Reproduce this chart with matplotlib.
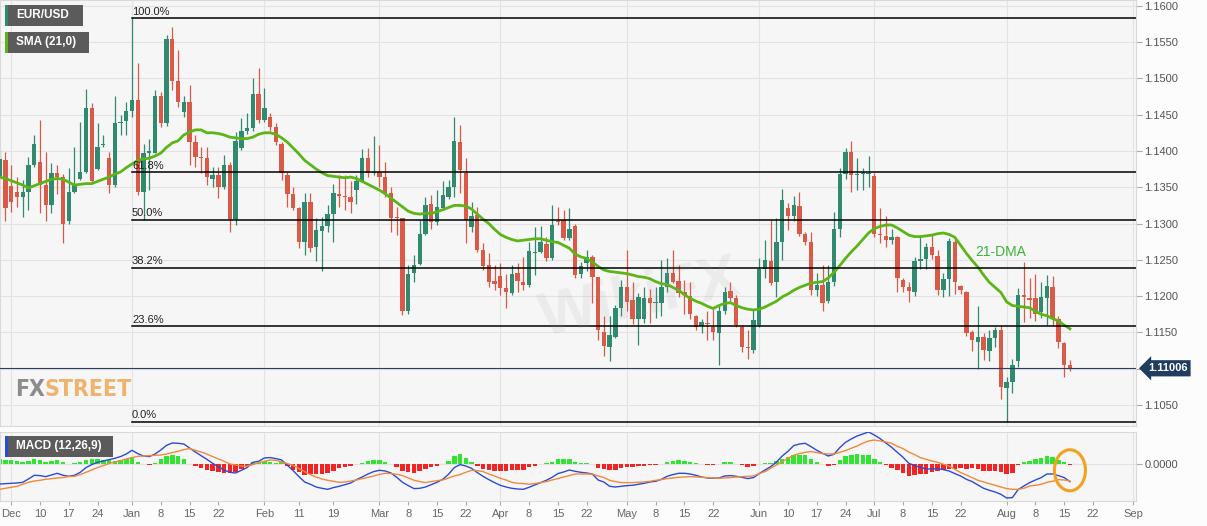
import numpy as np
import pandas as pd
import matplotlib
matplotlib.use("Agg")
import matplotlib.pyplot as plt
from matplotlib.patches import Rectangle, Ellipse
from matplotlib.transforms import blended_transform_factory

plt.rcParams['font.family'] = ['Liberation Sans', 'DejaVu Sans']

# ---- data: EUR/USD daily candles, 29 Nov 2018 - 16 Aug 2019 (one row per week) ----
dates = pd.bdate_range('2018-11-29', '2019-08-16')

open_ = [1.1365, 1.1388,
         1.1352, 1.1344, 1.1337, 1.1344, 1.1381,
         1.1385, 1.1353, 1.1326, 1.1369, 1.1364,
         1.1303, 1.1344, 1.1362, 1.1371, 1.1459,
         1.1375, 1.1408, 1.1390, 1.1353, 1.1438,
         1.1441, 1.1455, 1.1470, 1.1344, 1.1397,
         1.1397, 1.1476, 1.1439, 1.1554, 1.1497,
         1.1453, 1.1468, 1.1412, 1.1391, 1.1390,
         1.1361, 1.1367, 1.1351, 1.1381, 1.1306,
         1.1404, 1.1427, 1.1431, 1.1479, 1.1443,
         1.1447, 1.1433, 1.1410, 1.1367, 1.1340,
         1.1321, 1.1275, 1.1330, 1.1267, 1.1290,
         1.1297, 1.1313, 1.1341, 1.1338, 1.1336,
         1.1346, 1.1359, 1.1390, 1.1370, 1.1371,
         1.1364, 1.1342, 1.1309, 1.1307, 1.1179,
         1.1232, 1.1244, 1.1285, 1.1327, 1.1302,
         1.1321, 1.1336, 1.1350, 1.1412, 1.1370,
         1.1295, 1.1312, 1.1263, 1.1243, 1.1221,
         1.1228, 1.1211, 1.1204, 1.1232, 1.1220,
         1.1215, 1.1259, 1.1261, 1.1272, 1.1252,
         1.1303, 1.1305, 1.1280, 1.1296, 1.1230,
         1.1245, 1.1254, 1.1226, 1.1151, 1.1130,
         1.1144, 1.1184, 1.1213, 1.1195, 1.1169,
         1.1169, 1.1198, 1.1190, 1.1191, 1.1213,
         1.1232, 1.1221, 1.1206, 1.1200, 1.1173,
         1.1159, 1.1163, 1.1157, 1.1149, 1.1179,
         1.1207, 1.1197, 1.1158, 1.1130, 1.1126,
         1.1160, 1.1238, 1.1249, 1.1219, 1.1275,
         1.1321, 1.1310, 1.1324, 1.1285, 1.1275,
         1.1209, 1.1216, 1.1193, 1.1220, 1.1292,
         1.1368, 1.1398, 1.1367, 1.1368, 1.1368,
         1.1365, 1.1286, 1.1283, 1.1277, 1.1282,
         1.1222, 1.1212, 1.1206, 1.1249, 1.1251,
         1.1267, 1.1255, 1.1209, 1.1223, 1.1274,
         1.1214, 1.1206, 1.1151, 1.1137, 1.1144,
         1.1124, 1.1142, 1.1153, 1.1073, 1.1082,
         1.1110, 1.1202, 1.1198, 1.1197, 1.1178,
         1.1197, 1.1212, 1.1169, 1.1136, 1.1105]

high = [1.1401, 1.1399,
        1.1381, 1.1364, 1.1360, 1.1392, 1.1422,
        1.1443, 1.1399, 1.1383, 1.1381, 1.1368,
        1.1376, 1.1406, 1.1440, 1.1485, 1.1466,
        1.1438, 1.1422, 1.1399, 1.1476, 1.1449,
        1.1468, 1.1583, 1.1521, 1.1410, 1.1417,
        1.1484, 1.1481, 1.1560, 1.1571, 1.1539,
        1.1475, 1.1491, 1.1422, 1.1406, 1.1406,
        1.1378, 1.1378, 1.1394, 1.1385, 1.1426,
        1.1445, 1.1452, 1.1500, 1.1514, 1.1486,
        1.1452, 1.1438, 1.1412, 1.1371, 1.1351,
        1.1323, 1.1342, 1.1342, 1.1307, 1.1309,
        1.1325, 1.1355, 1.1367, 1.1367, 1.1358,
        1.1367, 1.1402, 1.1404, 1.1420, 1.1408,
        1.1385, 1.1351, 1.1323, 1.1308, 1.1243,
        1.1257, 1.1305, 1.1337, 1.1339, 1.1346,
        1.1358, 1.1360, 1.1447, 1.1436, 1.1390,
        1.1330, 1.1323, 1.1273, 1.1259, 1.1243,
        1.1246, 1.1231, 1.1243, 1.1246, 1.1254,
        1.1275, 1.1295, 1.1296, 1.1282, 1.1325,
        1.1323, 1.1319, 1.1321, 1.1300, 1.1247,
        1.1263, 1.1257, 1.1227, 1.1172, 1.1172,
        1.1188, 1.1222, 1.1263, 1.1220, 1.1204,
        1.1213, 1.1210, 1.1213, 1.1250, 1.1252,
        1.1263, 1.1243, 1.1222, 1.1220, 1.1174,
        1.1169, 1.1179, 1.1183, 1.1186, 1.1213,
        1.1220, 1.1202, 1.1160, 1.1153, 1.1181,
        1.1252, 1.1277, 1.1305, 1.1307, 1.1347,
        1.1328, 1.1338, 1.1344, 1.1289, 1.1289,
        1.1232, 1.1243, 1.1243, 1.1316, 1.1376,
        1.1404, 1.1413, 1.1390, 1.1376, 1.1393,
        1.1370, 1.1321, 1.1310, 1.1293, 1.1283,
        1.1225, 1.1220, 1.1254, 1.1284, 1.1273,
        1.1284, 1.1264, 1.1232, 1.1280, 1.1280,
        1.1216, 1.1207, 1.1154, 1.1186, 1.1149,
        1.1154, 1.1158, 1.1160, 1.1089, 1.1114,
        1.1211, 1.1247, 1.1225, 1.1231, 1.1220,
        1.1229, 1.1228, 1.1172, 1.1137, 1.1112]

low = [1.1360, 1.1303,
       1.1316, 1.1323, 1.1309, 1.1319, 1.1378,
       1.1314, 1.1303, 1.1314, 1.1340, 1.1273,
       1.1300, 1.1342, 1.1360, 1.1369, 1.1355,
       1.1374, 1.1406, 1.1342, 1.1351, 1.1422,
       1.1422, 1.1447, 1.1339, 1.1305, 1.1346,
       1.1397, 1.1433, 1.1435, 1.1484, 1.1461,
       1.1447, 1.1381, 1.1378, 1.1369, 1.1353,
       1.1351, 1.1335, 1.1348, 1.1289, 1.1298,
       1.1401, 1.1424, 1.1428, 1.1438, 1.1440,
       1.1428, 1.1408, 1.1360, 1.1323, 1.1319,
       1.1266, 1.1257, 1.1261, 1.1248, 1.1234,
       1.1289, 1.1275, 1.1323, 1.1319, 1.1314,
       1.1327, 1.1358, 1.1364, 1.1367, 1.1351,
       1.1336, 1.1289, 1.1284, 1.1174, 1.1176,
       1.1220, 1.1243, 1.1284, 1.1293, 1.1298,
       1.1319, 1.1334, 1.1337, 1.1342, 1.1273,
       1.1289, 1.1261, 1.1236, 1.1213, 1.1208,
       1.1202, 1.1183, 1.1202, 1.1205, 1.1208,
       1.1213, 1.1229, 1.1259, 1.1248, 1.1250,
       1.1298, 1.1277, 1.1277, 1.1225, 1.1225,
       1.1234, 1.1190, 1.1140, 1.1117, 1.1110,
       1.1142, 1.1172, 1.1179, 1.1162, 1.1133,
       1.1163, 1.1163, 1.1170, 1.1172, 1.1205,
       1.1218, 1.1199, 1.1176, 1.1169, 1.1153,
       1.1149, 1.1140, 1.1140, 1.1105, 1.1176,
       1.1190, 1.1158, 1.1123, 1.1114, 1.1122,
       1.1158, 1.1225, 1.1216, 1.1199, 1.1250,
       1.1291, 1.1303, 1.1283, 1.1270, 1.1202,
       1.1200, 1.1179, 1.1190, 1.1214, 1.1282,
       1.1362, 1.1344, 1.1346, 1.1346, 1.1351,
       1.1282, 1.1273, 1.1268, 1.1272, 1.1205,
       1.1205, 1.1192, 1.1200, 1.1237, 1.1237,
       1.1251, 1.1202, 1.1199, 1.1200, 1.1203,
       1.1203, 1.1145, 1.1124, 1.1099, 1.1112,
       1.1110, 1.1130, 1.1058, 1.1027, 1.1066,
       1.1103, 1.1165, 1.1170, 1.1166, 1.1170,
       1.1160, 1.1160, 1.1128, 1.1089, 1.1097]

close = [1.1389, 1.1321,
         1.1330, 1.1337, 1.1344, 1.1381, 1.1410,
         1.1353, 1.1326, 1.1369, 1.1364, 1.1300,
         1.1344, 1.1353, 1.1371, 1.1459, 1.1358,
         1.1405, 1.1410, 1.1353, 1.1438, 1.1440,
         1.1455, 1.1470, 1.1344, 1.1397, 1.1400,
         1.1476, 1.1439, 1.1554, 1.1497, 1.1468,
         1.1468, 1.1412, 1.1391, 1.1390, 1.1364,
         1.1367, 1.1351, 1.1381, 1.1306, 1.1413,
         1.1427, 1.1431, 1.1479, 1.1443, 1.1459,
         1.1433, 1.1412, 1.1369, 1.1341, 1.1321,
         1.1275, 1.1330, 1.1266, 1.1291, 1.1297,
         1.1313, 1.1342, 1.1338, 1.1336, 1.1330,
         1.1359, 1.1390, 1.1370, 1.1371, 1.1364,
         1.1342, 1.1307, 1.1307, 1.1179, 1.1230,
         1.1243, 1.1285, 1.1325, 1.1302, 1.1323,
         1.1339, 1.1350, 1.1413, 1.1374, 1.1305,
         1.1310, 1.1264, 1.1242, 1.1220, 1.1217,
         1.1211, 1.1206, 1.1230, 1.1221, 1.1216,
         1.1262, 1.1261, 1.1274, 1.1252, 1.1298,
         1.1302, 1.1280, 1.1293, 1.1229, 1.1241,
         1.1254, 1.1227, 1.1154, 1.1131, 1.1146,
         1.1183, 1.1213, 1.1192, 1.1169, 1.1199,
         1.1198, 1.1190, 1.1192, 1.1213, 1.1232,
         1.1220, 1.1204, 1.1202, 1.1176, 1.1158,
         1.1165, 1.1161, 1.1151, 1.1179, 1.1205,
         1.1197, 1.1160, 1.1130, 1.1128, 1.1167,
         1.1238, 1.1250, 1.1218, 1.1275, 1.1332,
         1.1310, 1.1326, 1.1286, 1.1274, 1.1208,
         1.1215, 1.1191, 1.1220, 1.1293, 1.1368,
         1.1398, 1.1367, 1.1368, 1.1369, 1.1370,
         1.1286, 1.1284, 1.1277, 1.1282, 1.1225,
         1.1213, 1.1207, 1.1248, 1.1251, 1.1268,
         1.1257, 1.1208, 1.1223, 1.1276, 1.1220,
         1.1208, 1.1149, 1.1139, 1.1144, 1.1126,
         1.1142, 1.1154, 1.1075, 1.1082, 1.1105,
         1.1202, 1.1199, 1.1195, 1.1176, 1.1199,
         1.1214, 1.1169, 1.1137, 1.1105, 1.11006]

sma21 = [1.1364, 1.1362,
         1.1359, 1.1356, 1.1353, 1.1349, 1.1352,
         1.1355, 1.1358, 1.1361, 1.1362, 1.1361,
         1.1357, 1.1353, 1.1354, 1.1355, 1.1355,
         1.1358, 1.1361, 1.1364, 1.1368, 1.1371,
         1.1377, 1.1382, 1.1387, 1.1389, 1.1390,
         1.1393, 1.1397, 1.1405, 1.1411, 1.1414,
         1.1422, 1.1426, 1.1429, 1.1429, 1.1425,
         1.1425, 1.1424, 1.1422, 1.1419, 1.1418,
         1.1417, 1.1417, 1.1419, 1.1423, 1.1425,
         1.1425, 1.1423, 1.1418, 1.1412, 1.1404,
         1.1396, 1.1387, 1.1381, 1.1375, 1.1370,
         1.1366, 1.1365, 1.1364, 1.1363, 1.1364,
         1.1362, 1.1358, 1.1354, 1.1350, 1.1346,
         1.1341, 1.1335, 1.1329, 1.1323, 1.1317,
         1.1314, 1.1313, 1.1314, 1.1314, 1.1316,
         1.1319, 1.1322, 1.1325, 1.1325, 1.1324,
         1.1320, 1.1313, 1.1306, 1.1300, 1.1292,
         1.1285, 1.1281, 1.1278, 1.1276, 1.1277,
         1.1278, 1.1279, 1.1279, 1.1277, 1.1275,
         1.1274, 1.1270, 1.1266, 1.1258, 1.1254,
         1.1252, 1.1247, 1.1241, 1.1236, 1.1234,
         1.1233, 1.1232, 1.1231, 1.1229, 1.1227,
         1.1226, 1.1224, 1.1220, 1.1217, 1.1216,
         1.1212, 1.1208, 1.1202, 1.1197, 1.1193,
         1.1190, 1.1186, 1.1183, 1.1187, 1.1190,
         1.1191, 1.1187, 1.1184, 1.1182, 1.1181,
         1.1182, 1.1185, 1.1189, 1.1193, 1.1199,
         1.1203, 1.1208, 1.1212, 1.1215, 1.1218,
         1.1219, 1.1220, 1.1225, 1.1233, 1.1242,
         1.1252, 1.1261, 1.1269, 1.1278, 1.1287,
         1.1293, 1.1296, 1.1298, 1.1298, 1.1294,
         1.1289, 1.1284, 1.1282, 1.1282, 1.1283,
         1.1284, 1.1286, 1.1287, 1.1285, 1.1281,
         1.1270, 1.1259, 1.1249, 1.1240, 1.1229,
         1.1219, 1.1212, 1.1205, 1.1192, 1.1187,
         1.1186, 1.1185, 1.1184, 1.1179, 1.1175,
         1.1173, 1.1169, 1.1166, 1.1160, 1.1155]

# MACD (12,26,9) line and signal, in pips (1e-4)
macd_pips = [-19.7, -19.3,
             -19.0, -18.7, -18.0, -14.7, -11.0,
             -11.3, -12.3, -10.7, -9.0, -11.0,
             -12.0, -11.0, -8.0, -3.3, -0.3,
             2.0, 3.3, 4.7, 6.0, 7.7,
             10.3, 14.0, 10.7, 8.3, 7.7,
             10.3, 14.3, 19.0, 21.3, 21.0,
             20.3, 16.3, 12.3, 8.7, 5.0,
             1.0, -2.3, -5.7, -8.0, -8.7,
             -6.0, -3.3, 2.0, 3.0, 6.3,
             6.7, 5.7, 4.3, -1.0, -6.3,
             -12.3, -17.7, -20.0, -22.7, -24.0,
             -25.0, -23.3, -22.0, -20.3, -18.7,
             -15.3, -12.7, -9.7, -7.3, -6.0,
             -6.7, -8.7, -13.0, -18.0, -21.3,
             -24.3, -24.0, -22.7, -20.3, -18.0,
             -15.0, -10.0, -3.3, -0.3, -1.7,
             -4.0, -8.3, -12.0, -15.3, -18.3,
             -21.0, -22.7, -24.0, -24.7, -25.0,
             -23.0, -20.7, -18.3, -16.0, -13.0,
             -9.3, -7.7, -5.7, -7.0, -8.0,
             -8.7, -9.7, -15.7, -17.7, -22.0,
             -22.7, -22.0, -21.3, -21.0, -20.0,
             -19.0, -17.7, -17.0, -15.0, -12.0,
             -10.3, -9.0, -9.0, -9.7, -11.0,
             -12.7, -13.7, -14.0, -13.7, -11.7,
             -11.3, -12.0, -13.0, -14.3, -13.3,
             -9.3, -5.7, -2.3, 2.3, 8.3,
             13.0, 18.7, 20.3, 21.0, 17.7,
             14.0, 11.0, 8.3, 10.0, 16.7,
             22.0, 25.3, 28.3, 30.3, 32.3,
             29.3, 25.7, 21.3, 17.0, 12.0,
             7.0, 1.0, -1.3, -3.0, -4.7,
             -4.7, -4.3, -5.3, -6.7, -9.3,
             -11.7, -15.0, -17.3, -20.7, -24.0,
             -26.0, -27.7, -30.0, -33.7, -33.3,
             -25.3, -21.7, -18.3, -15.7, -13.3,
             -9.7, -9.7, -11.3, -13.3, -17.3]

signal_pips = [-25.0, -24.0,
               -23.0, -22.0, -20.0, -18.0, -16.7,
               -16.0, -15.0, -14.3, -13.7, -13.3,
               -12.3, -12.0, -10.3, -8.0, -5.7,
               -3.3, -1.3, 0.7, 2.3, 3.7,
               5.3, 6.7, 8.0, 8.3, 8.7,
               9.0, 9.3, 10.3, 11.7, 13.0,
               14.7, 15.7, 14.0, 12.3, 10.3,
               7.7, 5.3, 3.0, 0.3, -0.7,
               -1.7, -2.0, -0.3, 1.7, 3.0,
               4.3, 4.0, 2.3, 0.7, -1.0,
               -4.3, -7.3, -10.3, -12.7, -14.7,
               -16.0, -17.0, -18.0, -17.7, -16.7,
               -15.7, -14.3, -13.0, -11.7, -10.0,
               -9.0, -9.3, -10.0, -11.3, -13.7,
               -16.0, -17.3, -18.3, -17.3, -16.3,
               -15.7, -13.7, -11.7, -10.3, -8.0,
               -6.0, -6.3, -7.3, -9.7, -11.7,
               -14.0, -15.7, -18.0, -19.0, -19.3,
               -20.0, -19.3, -18.3, -17.3, -15.7,
               -14.3, -12.7, -11.3, -9.7, -9.7,
               -9.7, -9.7, -11.7, -13.3, -16.0,
               -17.3, -18.3, -18.3, -18.3, -18.0,
               -17.7, -17.0, -16.0, -15.3, -14.3,
               -13.7, -13.0, -12.7, -12.3, -12.7,
               -13.0, -13.3, -13.7, -14.0, -13.7,
               -13.3, -12.7, -12.3, -12.0, -11.7,
               -9.3, -7.3, -4.0, -0.7, 2.7,
               6.0, 9.0, 10.7, 12.0, 12.7,
               11.7, 10.7, 10.3, 10.3, 12.0,
               13.7, 16.0, 18.3, 21.0, 23.3,
               24.3, 23.3, 22.3, 21.0, 18.0,
               15.7, 12.3, 9.7, 6.7, 5.0,
               3.3, 2.0, 0.0, -1.7, -5.0,
               -8.3, -10.7, -13.3, -16.0, -17.7,
               -19.3, -21.0, -22.7, -24.3, -25.0,
               -25.0, -24.0, -21.7, -21.0, -20.0,
               -18.0, -17.0, -15.3, -15.7, -16.7]

fib_ratios = [1.0, 0.618, 0.5, 0.382, 0.236, 0.0]
fib_labels = ['100.0%', '61.8%', '50.0%', '38.2%', '23.6%', '0.0%']

tick_dates = ['2018-12-03', '2018-12-10', '2018-12-17', '2018-12-24',
              '2019-01-01', '2019-01-08', '2019-01-15', '2019-01-22',
              '2019-02-01', '2019-02-11', '2019-02-19',
              '2019-03-01', '2019-03-08', '2019-03-15', '2019-03-22',
              '2019-04-01', '2019-04-08', '2019-04-15', '2019-04-22',
              '2019-05-01', '2019-05-08', '2019-05-15', '2019-05-22',
              '2019-06-03', '2019-06-10', '2019-06-17', '2019-06-24',
              '2019-07-01', '2019-07-08', '2019-07-15', '2019-07-22',
              '2019-08-01', '2019-08-08', '2019-08-15', '2019-08-22',
              '2019-09-02']
tick_labels = ['Dec', '10', '17', '24', 'Jan', '8', '15', '22', 'Feb', '11', '19',
               'Mar', '8', '15', '22', 'Apr', '8', '15', '22', 'May', '8', '15', '22',
               'Jun', '10', '17', '24', 'Jul', '8', '15', '22', 'Aug', '8', '15', '22', 'Sep']

# ---- styling ----
W, H = 1207, 526
GREEN, RED = '#2f8a70', '#db5a47'
SMA_C = '#5bb517'
GRID = '#e3e3e3'

o, h, l, c = (np.array(v) for v in (open_, high, low, close))
macd = np.array(macd_pips) * 1e-4
signal = np.array(signal_pips) * 1e-4
hist = macd - signal

all_days = pd.bdate_range('2018-11-29', '2019-09-30')
pos_of = {d: k for k, d in enumerate(all_days)}
pos = np.arange(len(dates))
tpos = [pos_of[pd.Timestamp(d)] for d in tick_dates]
month_pos = [p for p, lab in zip(tpos, tick_labels) if not lab.isdigit()]

fig = plt.figure(figsize=(W / 100, H / 100), dpi=100)
fig.patch.set_facecolor('#fcfcfc')
ax = fig.add_axes([0, 1 - 426 / H, 1136 / W, 426 / H])
axm = fig.add_axes([0, 1 - 501 / H, 1136 / W, 69 / H], sharex=ax)

for a in (ax, axm):
    a.set_facecolor('#f6f6f6')
    for s in a.spines.values():
        s.set_color('#d9d9d9')
        s.set_linewidth(0.8)
    for p in month_pos:
        a.axvline(p, color=GRID, lw=0.8, zorder=0)

x_lo = 2 - 11.2 / 5.754
x_hi = 2 + 1124.8 / 5.754
ax.set_xlim(x_lo, x_hi)

# price panel
ax.set_ylim(1.10211, 1.16079)
ax.set_yticks(np.arange(1.105, 1.16001, 0.005))
# the 1.1100 label sits under the last-price tag
ax.yaxis.set_major_formatter(lambda v, p: '' if abs(v - 1.11) < 1e-6 else f'{v:.4f}')
ax.yaxis.tick_right()
ax.grid(axis='y', color=GRID, lw=0.8, zorder=0)
ax.tick_params(axis='y', length=4, width=0.8, color='#aaaaaa', pad=2,
               labelsize=8, labelcolor='#555555')
ax.tick_params(axis='x', length=0, labelbottom=False)

up = c >= o
cols = np.where(up, GREEN, RED)
ax.vlines(pos, l, h, colors=cols, lw=0.9, zorder=2)
ax.bar(pos, np.maximum(np.abs(c - o), 0.00012), bottom=np.minimum(o, c),
       width=0.76, color=cols, linewidth=0, zorder=3)
ax.plot(pos, sma21, color=SMA_C, lw=2, zorder=4)

# fibonacci retracement
hi_k, lo_k = int(np.argmax(h)), int(np.argmin(l))
for r, lab in zip(fib_ratios, fib_labels):
    lvl = l[lo_k] + r * (h[hi_k] - l[lo_k])
    ax.plot([pos[hi_k], x_hi], [lvl, lvl], color='black', lw=1.1, zorder=5)
    ax.text(pos[hi_k], lvl + 0.0002, lab, fontsize=8, color='#222222',
            ha='left', va='bottom', zorder=6)

# last price line + tag
ax.axhline(c[-1], color='#2b3f5f', lw=0.8, zorder=5)
tr = blended_transform_factory(ax.transAxes, ax.transData)
ax.text(1148 / 1136, c[-1], f'{c[-1]:.5f}', transform=tr, color='white',
        fontsize=8, fontweight='bold', ha='left', va='center', clip_on=False,
        bbox=dict(boxstyle='larrow,pad=0.28', fc='#1f3d60', ec='none'))

ax.text(pos_of[pd.Timestamp('2019-07-31')], 1.1261, '21-DMA', color='#3db43a',
        fontsize=10, ha='center', va='center', zorder=6)

# MACD panel
axm.set_ylim(-36.7e-4, 32.3e-4)
axm.set_yticks([0])
axm.yaxis.set_major_formatter('{x:.4f}')
axm.yaxis.tick_right()
axm.grid(axis='y', color=GRID, lw=0.8, zorder=0)
axm.tick_params(axis='y', length=4, width=0.8, color='#aaaaaa', pad=2,
                labelsize=8, labelcolor='#555555')
axm.bar(pos, hist, width=0.78, color=np.where(hist >= 0, '#2fe52f', '#f22323'),
        linewidth=0, zorder=2)
axm.plot(pos, macd, color='#2d4ad6', lw=1, zorder=3)
axm.plot(pos, signal, color='#f0893a', lw=1, zorder=3)
axm.add_patch(Ellipse((pos[-1], -6e-4), width=5.4, height=41e-4, fill=False,
                      ec='#f4a11f', lw=2.2, zorder=5, clip_on=False))
axm.set_xticks(tpos)
axm.set_xticklabels(tick_labels)
axm.tick_params(axis='x', length=3, width=0.8, color='#aaaaaa', pad=3,
                labelsize=8, labelcolor='#666666')
axm.set_xlim(x_lo, x_hi)


# legend tags (pixel coordinates of the screenshot)
def tag(x0, y0, w, hgt, strip, text):
    fig.patches.append(Rectangle((x0 / W, 1 - (y0 + hgt) / H), w / W, hgt / H,
                                 transform=fig.transFigure, fc='#5b5b5b', ec='none', zorder=10))
    fig.patches.append(Rectangle((x0 / W, 1 - (y0 + hgt) / H), 3 / W, hgt / H,
                                 transform=fig.transFigure, fc=strip, ec='none', zorder=11))
    fig.text((x0 + 11) / W, 1 - (y0 + hgt / 2) / H, text, color='white', fontsize=8.5,
             fontweight='bold', ha='left', va='center', zorder=12)


tag(5, 5, 78, 21, GREEN, 'EUR/USD')
tag(5, 32, 84, 21, SMA_C, 'SMA (21,0)')
tag(5, 436, 108, 21, '#2d4ad6', 'MACD (12,26,9)')

# watermarks
logo_font = dict(fontsize=16.5, fontweight='bold', fontstretch='condensed',
                 family=['Liberation Sans Narrow', 'DejaVu Sans'], zorder=1)
fx_txt = fig.text(15 / W, 1 - 389 / H, 'FX', color='#8c8c8c', ha='left', va='center', **logo_font)
fig.add_artist(plt.Annotation('STREET', xy=(1.0, 0.5), xycoords=fx_txt, color='#f0b36c',
                              ha='left', va='center', **logo_font))
fig.text(640 / W, 1 - 300 / H, 'WikiFX', color='#9a9a9a', alpha=0.12, fontsize=44,
         fontweight='bold', rotation=12, ha='center', va='center', zorder=1)

fig.savefig('out.png', dpi=100, facecolor=fig.get_facecolor())
